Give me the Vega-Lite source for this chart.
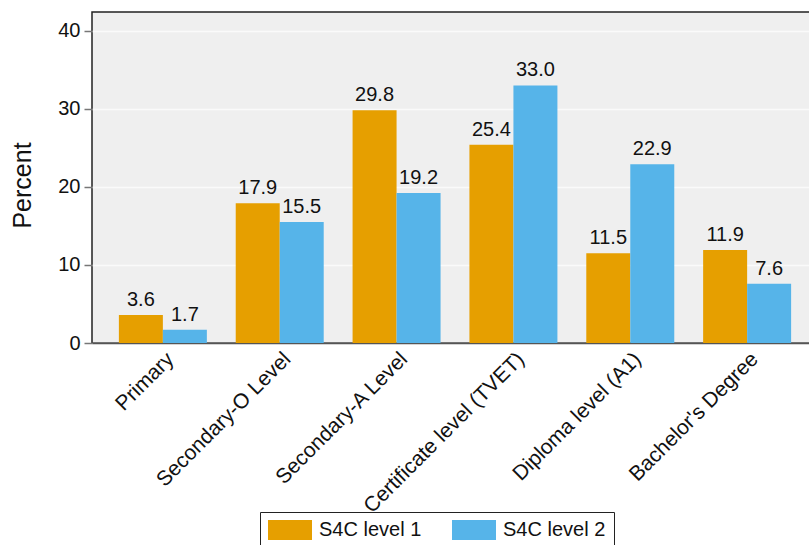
{
  "$schema": "https://vega.github.io/schema/vega-lite/v6.json",
  "width": 726,
  "height": 331,
  "autosize": "none",
  "padding": {"left": 92, "top": 12, "right": 0, "bottom": 202},
  "background": "white",
  "config": {
    "font": "Liberation Sans",
    "view": {"fill": "#efefef", "stroke": "#222", "strokeWidth": 1.5}
  },
  "data": {
    "values": [
      {"edu": "Primary", "level": "S4C level 1", "pct": 3.6},
      {"edu": "Primary", "level": "S4C level 2", "pct": 1.7},
      {"edu": "Secondary-O Level", "level": "S4C level 1", "pct": 17.9},
      {"edu": "Secondary-O Level", "level": "S4C level 2", "pct": 15.5},
      {"edu": "Secondary-A Level", "level": "S4C level 1", "pct": 29.8},
      {"edu": "Secondary-A Level", "level": "S4C level 2", "pct": 19.2},
      {"edu": "Certificate level (TVET)", "level": "S4C level 1", "pct": 25.4},
      {"edu": "Certificate level (TVET)", "level": "S4C level 2", "pct": 33.0},
      {"edu": "Diploma level (A1)", "level": "S4C level 1", "pct": 11.5},
      {"edu": "Diploma level (A1)", "level": "S4C level 2", "pct": 22.9},
      {"edu": "Bachelor's Degree", "level": "S4C level 1", "pct": 11.9},
      {"edu": "Bachelor's Degree", "level": "S4C level 2", "pct": 7.6}
    ]
  },
  "encoding": {
    "x": {
      "field": "edu", "type": "nominal", "sort": null,
      "scale": {"paddingInner": 0.247, "paddingOuter": 0.23},
      "axis": {
        "title": null, "labelAngle": -45, "labelFontSize": 21, "labelColor": "#111",
        "ticks": false, "domain": true, "domainColor": "#555", "domainWidth": 1.5,
        "labelPadding": 5, "labelLimit": 400
      }
    },
    "xOffset": {"field": "level", "type": "nominal", "scale": {"paddingInner": 0, "paddingOuter": 0}},
    "y": {
      "field": "pct", "type": "quantitative",
      "scale": {"domain": [0, 42.4], "nice": false, "zero": true},
      "axis": {
        "title": "Percent", "titleFontSize": 25, "titleFontWeight": "normal", "titleColor": "#111",
        "titlePadding": 22, "titleY": 173,
        "values": [0, 10, 20, 30, 40], "labelFontSize": 20, "labelColor": "#111",
        "tickColor": "#777", "tickSize": 8, "tickWidth": 1.5, "labelPadding": 4,
        "domain": false,
        "grid": true, "gridColor": "#fafafa", "gridWidth": 1.5
      }
    }
  },
  "layer": [
    {
      "mark": {"type": "bar"},
      "encoding": {
        "color": {
          "field": "level", "type": "nominal",
          "scale": {"domain": ["S4C level 1", "S4C level 2"], "range": ["#E69F00", "#56B4E9"]},
          "legend": {
            "title": null, "orient": "none", "legendX": 168, "legendY": 500,
            "direction": "horizontal", "columns": 2, "columnPadding": 30,
            "symbolType": "M-2.2,-1H2.2V1H-2.2Z", "symbolSize": 400,
            "symbolOffset": 12,
            "symbolStrokeWidth": 0, "symbolOpacity": 1,
            "labelFontSize": 20, "labelColor": "#111", "labelOffset": 19,
            "padding": 8, "strokeColor": "#222", "fillColor": "white"
          }
        }
      }
    },
    {
      "mark": {"type": "text", "baseline": "bottom", "dy": -5, "fontSize": 20, "color": "#111"},
      "encoding": {
        "text": {"field": "pct", "type": "quantitative", "format": ".1f"}
      }
    }
  ]
}
